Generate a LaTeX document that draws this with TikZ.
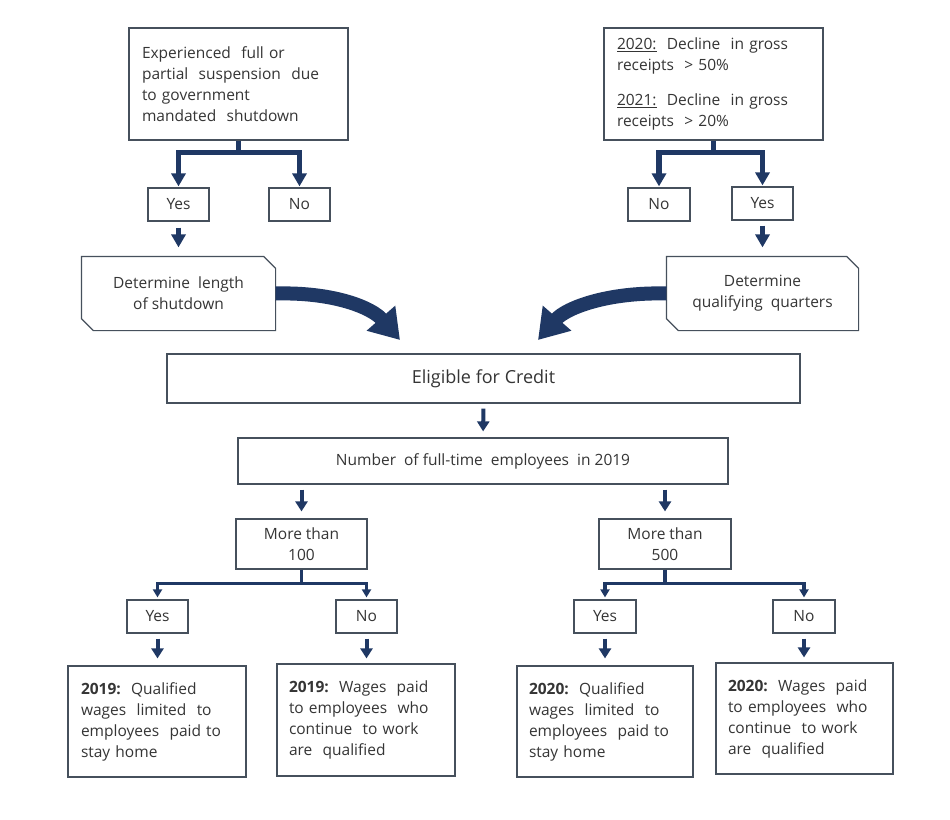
\documentclass[tikz,border=0pt]{standalone}
\usepackage{fontspec}
\setmainfont{Open Sans}
\usetikzlibrary{arrows.meta,calc}
\definecolor{navy}{HTML}{1F3864}
\definecolor{boxline}{HTML}{46505C}
\definecolor{txt}{HTML}{353535}
\begin{document}
\begin{tikzpicture}[x=1pt,y=-1pt,
  box/.style={draw=boxline, line width=1.2pt, text=txt, inner sep=0pt, align=center,
    font=\fontsize{15.5}{21}\selectfont},
  lbox/.style={box, align=left},
  plainbox/.style={box, draw=none},
  outline/.style={draw=boxline, line width=1.2pt, line join=miter},
  bigarr/.style={draw=navy, line width=5.5pt, line join=miter, -{Triangle[width=14pt,length=13pt]}},
  midarr/.style={draw=navy, line width=4pt, -{Triangle[width=12pt,length=10pt]}},
  smallarr/.style={draw=navy, line width=3.5pt, line join=miter, -{Triangle[width=9pt,length=8pt]}},
  curvearr/.style={draw=navy, line width=14pt, -{Triangle[width=36pt,length=29pt]}}
]
\useasboundingbox[fill=white] (0,0) rectangle (950,819);

% top row
\node[lbox, minimum width=219pt, minimum height=112pt, text width=193pt] (q1) at (238.5,84)
  {Experienced\ \ full or\\ partial\ \ suspension\ \ due\\ to government\\ mandated\ \ shutdown};
\node[lbox, minimum width=219pt, minimum height=112pt, text width=193pt] (q2) at (713.5,84)
  {\underline{2020:}\ \ Decline\ \ in gross\\ receipts\ \ > 50\%\\[14pt] \underline{2021:}\ \ Decline\ \ in gross\\ receipts\ \ > 20\%};

\node[box, minimum width=61pt, minimum height=33pt] (yes1) at (178.5,204.5) {Yes};
\node[box, minimum width=61pt, minimum height=33pt] (no1) at (299.5,204.5) {No};
\node[box, minimum width=62pt, minimum height=33pt] (no2) at (659,204.5) {No};
\node[box, minimum width=61pt, minimum height=33pt] (yes2) at (762.5,203.5) {Yes};

% determine boxes (chamfered)
\node[plainbox, minimum width=193pt, minimum height=73pt] (det1) at (178.5,293.5)
  {Determine\ \ length\\ of shutdown};
\draw[outline] (det1.north west) -- ($(det1.north east)+(-12,0)$) -- ($(det1.north east)+(0,12)$)
  -- (det1.south east) -- ($(det1.south west)+(12,0)$) -- ($(det1.south west)+(0,-12)$) -- cycle;
\node[plainbox, minimum width=191pt, minimum height=73pt] (det2) at (762.5,293.5)
  {Determine\\ qualifying\ \ quarters};
\draw[outline] (det2.north west) -- ($(det2.north east)+(-12,0)$) -- ($(det2.north east)+(0,12)$)
  -- (det2.south east) -- ($(det2.south west)+(12,0)$) -- ($(det2.south west)+(0,-12)$) -- cycle;

\coordinate (t1) at (400,340);
\coordinate (t2) at (538,340);

\node[box, minimum width=633pt, minimum height=49pt, font=\fontsize{18}{21}\selectfont] (elig) at (483.5,378.5)
  {Eligible for Credit};
\node[box, minimum width=490pt, minimum height=46pt] (num) at (483,461)
  {Number\ \ of full-time\ \ employees\ \ in 2019};

\node[box, minimum width=131pt, minimum height=50pt] (m100) at (301.5,544) {More than\\ 100};
\node[box, minimum width=132pt, minimum height=50pt] (m500) at (665,544) {More than\\ 500};

\node[box, minimum width=61pt, minimum height=33pt] (yes3) at (157.5,616.5) {Yes};
\node[box, minimum width=61pt, minimum height=33pt] (no3) at (366.5,616.5) {No};
\node[box, minimum width=62pt, minimum height=33pt] (yes4) at (605,616.5) {Yes};
\node[box, minimum width=62pt, minimum height=33pt] (no4) at (804,616.5) {No};

\node[lbox, minimum width=178pt, minimum height=111pt, text width=152pt] (q19) at (157,721.5)
  {\textbf{2019:}\ \ Qualified\\ wages\ \ limited\ \ to\\ employees\ \ paid to\\ stay home};
\node[lbox, minimum width=178pt, minimum height=112pt, text width=154pt] (w19) at (366,720)
  {\textbf{2019:}\ \ Wages\ \ paid\\ to employees\ \ who\\ continue\ \ to work\\ are\ \ qualified};
\node[lbox, minimum width=176pt, minimum height=111pt, text width=152pt] (q20) at (605,721.5)
  {\textbf{2020:}\ \ Qualified\\ wages\ \ limited\ \ to\\ employees\ \ paid to\\ stay home};
\node[lbox, minimum width=177pt, minimum height=111pt, text width=153pt] (w20) at (804.5,718.5)
  {\textbf{2020:}\ \ Wages\ \ paid\\ to employees\ \ who\\ continue\ \ to work\\ are\ \ qualified};

% connectors
\draw[bigarr, shorten >=1pt] (q1.south) -- ++(0,12) -| (yes1.north);
\draw[bigarr, shorten >=1pt] (q1.south) -- ++(0,12) -| (no1.north);
\draw[bigarr, shorten >=1pt] (q2.south) -- ++(0,12) -| (no2.north);
\draw[bigarr, shorten >=1pt] (q2.south) -- ++(0,12) -| (yes2.north);
\draw[bigarr, shorten <=6pt, shorten >=9pt] (yes1.south) -- (det1.north);
\draw[bigarr, shorten <=5pt, shorten >=9pt] (yes2.south) -- (det2.north -| yes2.south);

\draw[curvearr] (det1.east) .. controls (335,292) and (372,308) .. (t1);
\draw[curvearr] (det2.west) .. controls (607,292) and (566,308) .. (t2);

\draw[midarr, shorten <=5pt, shorten >=6pt] (elig.south) -- (num.north);
\draw[midarr, shorten <=5pt, shorten >=7pt] (num.south -| m100.north) -- (m100.north);
\draw[midarr, shorten <=5pt, shorten >=7pt] (num.south -| m500.north) -- (m500.north);

\draw[smallarr, shorten >=2pt] (m100.south) -- ++(0,14) -| (yes3.north);
\draw[smallarr, shorten >=2pt] (m100.south) -- ++(0,14) -| (no3.north);
\draw[smallarr, shorten >=2pt] (m500.south) -- ++(0,14) -| (yes4.north);
\draw[smallarr, shorten >=2pt] (m500.south) -- ++(0,14) -| (no4.north);

\draw[midarr, shorten <=5pt, shorten >=7pt] (yes3.south) -- (yes3.south |- q19.north);
\draw[midarr, shorten <=5pt, shorten >=5pt] (no3.south) -- (no3.south |- w19.north);
\draw[midarr, shorten <=5pt, shorten >=7pt] (yes4.south) -- (yes4.south |- q20.north);
\draw[midarr, shorten <=5pt, shorten >=5pt] (no4.south) -- (no4.south |- w20.north);
\end{tikzpicture}
\end{document}
